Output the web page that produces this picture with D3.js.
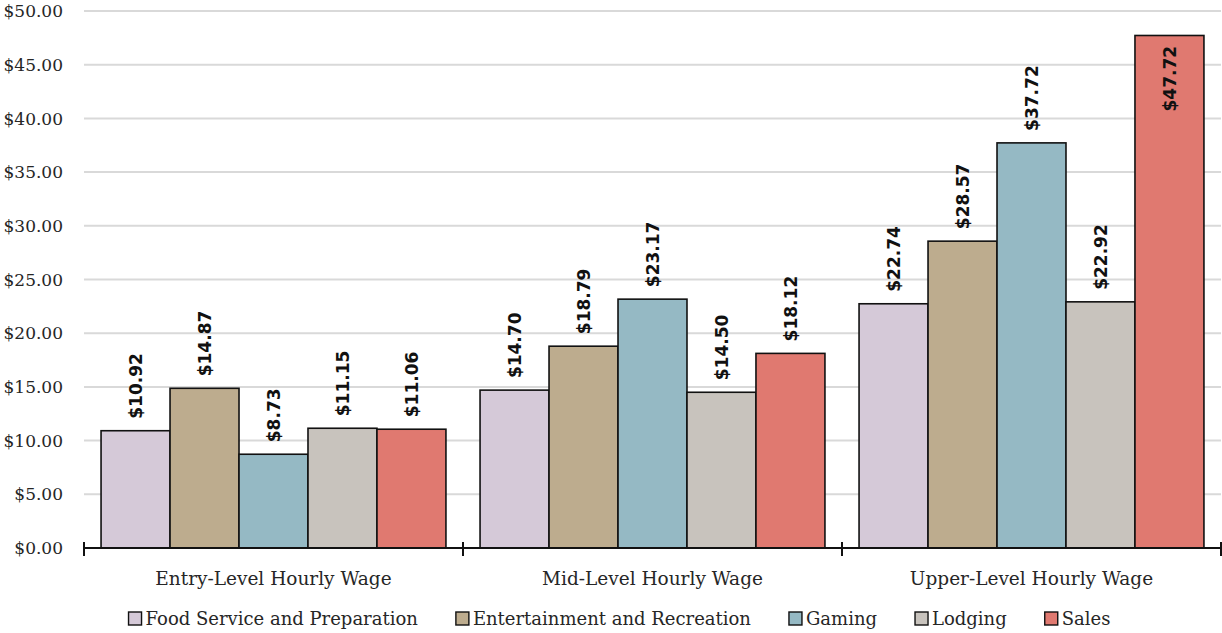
<!DOCTYPE html>
<html>
<head>
<meta charset="utf-8">
<script src="https://cdn.jsdelivr.net/npm/d3@7"></script>
<style>
  body { margin: 0; background: #fff; }
  svg { display: block; }
</style>
</head>
<body>
<svg width="1222" height="633"></svg>
<script>
const categories = ["Entry-Level Hourly Wage", "Mid-Level Hourly Wage", "Upper-Level Hourly Wage"];
const seriesNames = ["Food Service and Preparation", "Entertainment and Recreation", "Gaming", "Lodging", "Sales"];
const foodService = [10.92, 14.70, 22.74];
const entertainment = [14.87, 18.79, 28.57];
const gaming = [8.73, 23.17, 37.72];
const lodging = [11.15, 14.50, 22.92];
const sales = [11.06, 18.12, 47.72];
const yTicks = [0, 5, 10, 15, 20, 25, 30, 35, 40, 45, 50];

const colorMap = {
    "Food Service and Preparation": "#d5c9d8",
    "Entertainment and Recreation": "#bdac8e",
    "Gaming": "#95b9c4",
    "Lodging": "#c8c3bd",
    "Sales": "#e07970"
};

const seriesValues = [foodService, entertainment, gaming, lodging, sales];

const svg = d3.select("svg");
const margin = {top: 11, right: 1, bottom: 85, left: 84};
const width = +svg.attr("width");
const height = +svg.attr("height");
const innerWidth = width - margin.left - margin.right;
const innerHeight = height - margin.top - margin.bottom;

const serif = "'DejaVu Serif', serif";

const scaleY = d3.scaleLinear().domain([0, 50]).range([innerHeight, 0]);
const scaleX = d3.scaleBand().domain(categories).range([0, innerWidth]).padding(0);
const pad = scaleX.bandwidth() * 0.045;
const scaleXInner = d3.scaleBand()
    .domain(seriesNames)
    .range([pad, scaleX.bandwidth() - pad])
    .padding(0);

const g = svg.append("g").attr("transform", `translate(${margin.left}, ${margin.top})`);

// gridlines
g.append("g")
    .selectAll("line")
    .data(yTicks.filter(t => t > 0))
    .join("line")
    .attr("x1", 0)
    .attr("x2", innerWidth)
    .attr("y1", d => scaleY(d))
    .attr("y2", d => scaleY(d))
    .attr("stroke", "#d9d9d9")
    .attr("stroke-width", 2);

// y labels
g.append("g")
    .selectAll("text")
    .data(yTicks)
    .join("text")
    .attr("x", -21)
    .attr("y", d => scaleY(d))
    .attr("dy", "0.36em")
    .attr("text-anchor", "end")
    .style("font-family", serif)
    .style("font-size", "17px")
    .style("fill", "#262626")
    .text(d => "$" + d.toFixed(2));

// bars
const rows = [];
categories.forEach((c, i) => {
    seriesNames.forEach((s, j) => {
        rows.push({cat: c, series: s, value: seriesValues[j][i]});
    });
});

g.append("g")
    .selectAll("rect")
    .data(rows)
    .join("rect")
    .attr("x", d => scaleX(d.cat) + scaleXInner(d.series))
    .attr("y", d => scaleY(d.value))
    .attr("width", scaleXInner.bandwidth())
    .attr("height", d => innerHeight - scaleY(d.value))
    .attr("fill", d => colorMap[d.series])
    .attr("stroke", "#111")
    .attr("stroke-width", 1.6);

// data labels (rotated), the tallest one sits inside its bar
g.append("g")
    .selectAll("text")
    .data(rows)
    .join("text")
    .attr("transform", d => {
        const cx = scaleX(d.cat) + scaleXInner(d.series) + scaleXInner.bandwidth() / 2;
        const top = scaleY(d.value);
        const inside = d.value > 45;
        const y = inside ? top + 76 : top - 12;
        return `translate(${cx}, ${y}) rotate(-90)`;
    })
    .attr("dy", "0.36em")
    .attr("text-anchor", "start")
    .style("font-family", "'DejaVu Sans', sans-serif")
    .style("font-weight", "bold")
    .style("font-size", "17px")
    .style("fill", "#111")
    .text(d => "$" + d.value.toFixed(2));

// x axis
const axisG = g.append("g").attr("transform", `translate(0, ${innerHeight})`);
axisG.append("line")
    .attr("x1", 0).attr("x2", innerWidth)
    .attr("stroke", "#111").attr("stroke-width", 2);
const boundaries = categories.map(c => scaleX(c)).concat([innerWidth]);
axisG.selectAll(".tick")
    .data(boundaries)
    .join("line")
    .attr("class", "tick")
    .attr("x1", d => d).attr("x2", d => d)
    .attr("y1", -6).attr("y2", 8)
    .attr("stroke", "#111").attr("stroke-width", 2);
axisG.selectAll(".cat")
    .data(categories)
    .join("text")
    .attr("class", "cat")
    .attr("x", d => scaleX(d) + scaleX.bandwidth() / 2)
    .attr("y", 30)
    .attr("dy", "0.36em")
    .attr("text-anchor", "middle")
    .style("font-family", serif)
    .style("font-size", "18.5px")
    .style("fill", "#262626")
    .text(d => d);

// legend
const legend = svg.append("g").attr("transform", "translate(0, 619)");
let lx = 0;
seriesNames.forEach(s => {
    const item = legend.append("g").attr("transform", `translate(${lx}, 0)`);
    item.append("rect")
        .attr("x", 0).attr("y", -7)
        .attr("width", 13).attr("height", 13)
        .attr("fill", colorMap[s])
        .attr("stroke", "#111")
        .attr("stroke-width", 1.4);
    const t = item.append("text")
        .attr("x", 17)
        .attr("dy", "0.36em")
        .style("font-family", serif)
        .style("font-size", "18px")
        .style("fill", "#262626")
        .text(s);
    lx += 17 + t.node().getComputedTextLength() + 38;
});
const totalW = lx - 38;
legend.attr("transform", `translate(${131 + (977 - totalW) / 2}, 619)`);
</script>
</body>
</html>
